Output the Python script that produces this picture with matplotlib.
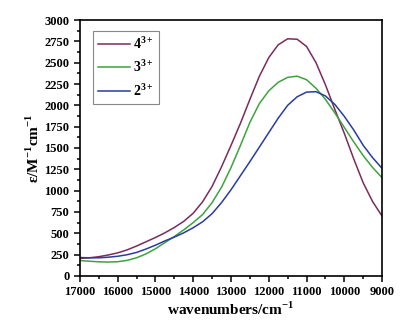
import matplotlib
matplotlib.use('Agg')
import matplotlib.pyplot as plt
from matplotlib.ticker import MultipleLocator

# wavenumber grid (cm^-1), 250 step
wn = [17000, 16750, 16500, 16250, 16000, 15750, 15500, 15250, 15000, 14750, 14500,
      14250, 14000, 13750, 13500, 13250, 13000, 12750, 12500, 12250, 12000, 11750,
      11500, 11250, 11000, 10750, 10500, 10250, 10000, 9750, 9500, 9250, 9000]

eps_4 = [205, 212, 225, 245, 270, 305, 350, 400, 450, 505, 568,
         640, 735, 870, 1050, 1280, 1530, 1790, 2070, 2340, 2560, 2710,
         2780, 2775, 2690, 2500, 2240, 1950, 1670, 1370, 1090, 870, 700]

eps_3 = [180, 172, 165, 162, 166, 182, 212, 258, 318, 390, 462,
         540, 625, 720, 860, 1040, 1270, 1530, 1800, 2020, 2170, 2270,
         2328, 2342, 2300, 2200, 2070, 1910, 1740, 1570, 1410, 1270, 1150]

eps_2 = [215, 212, 212, 219, 230, 248, 275, 315, 360, 410, 455,
         505, 565, 635, 730, 860, 1010, 1175, 1340, 1510, 1680, 1850,
         2000, 2100, 2155, 2160, 2110, 2010, 1870, 1710, 1530, 1385, 1260]

labels = [r'$\mathbf{4^{3+}}$', r'$\mathbf{3^{3+}}$', r'$\mathbf{2^{3+}}$']
colors = ['#7a2c5c', '#3fa23f', '#2a3c9e']

plt.rcParams['font.family'] = ['Liberation Serif', 'DejaVu Serif']
plt.rcParams['mathtext.fontset'] = 'custom'
plt.rcParams['mathtext.rm'] = 'Liberation Serif'
plt.rcParams['mathtext.bf'] = 'Liberation Serif:bold'

fig = plt.figure(figsize=(4.14, 3.34), dpi=100)
ax = fig.add_axes([0.193, 0.174, 0.730, 0.766])

for y, lab, c in zip([eps_4, eps_3, eps_2], labels, colors):
    ax.plot(wn, y, color=c, lw=1.1, label=lab)

ax.set_xlim(17000, 9000)
ax.set_ylim(0, 3000)
ax.xaxis.set_major_locator(MultipleLocator(1000))
ax.xaxis.set_minor_locator(MultipleLocator(500))
ax.yaxis.set_major_locator(MultipleLocator(250))
ax.yaxis.set_minor_locator(MultipleLocator(125))
ax.tick_params(which='both', direction='out', top=False, right=False, width=1.1)
ax.tick_params(which='major', length=4, labelsize=9)
ax.tick_params(which='minor', length=2)
for lab in ax.get_xticklabels() + ax.get_yticklabels():
    lab.set_fontweight('bold')
for s in ax.spines.values():
    s.set_linewidth(1.2)

ax.set_xlabel(r'wavenumbers/cm$^{\mathbf{-1}}$', fontsize=11, fontweight='bold', labelpad=2)
ax.set_ylabel(r'ε/M$^{\mathbf{-1}}$cm$^{\mathbf{-1}}$', fontsize=11, fontweight='bold', labelpad=2)

leg = ax.legend(loc='upper left', bbox_to_anchor=(0.043, 0.957), borderaxespad=0,
                fontsize=10, fancybox=False, framealpha=1, edgecolor='#888888',
                handlelength=2.3, handletextpad=0.25, borderpad=0.35, labelspacing=0.55)
leg.get_frame().set_linewidth(0.8)

fig.savefig('out.png', dpi=100)
